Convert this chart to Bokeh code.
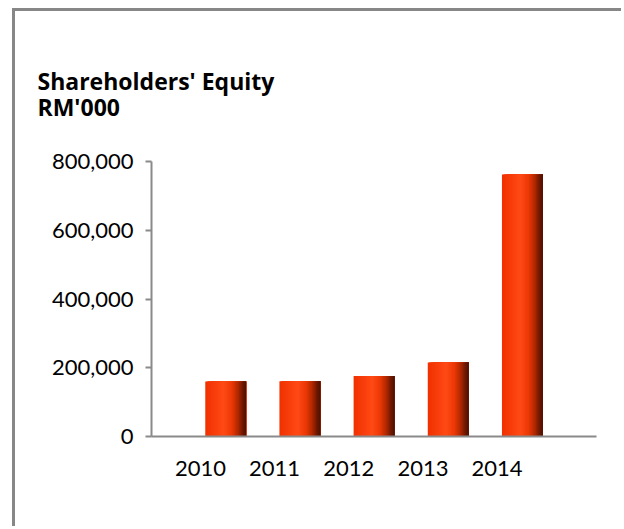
from bokeh.plotting import figure
from bokeh.models import Title, FixedTicker, Range1d, NumeralTickFormatter
from bokeh.embed import file_html
from bokeh.resources import INLINE

# ---- data ----
years = ["2010", "2011", "2012", "2013", "2014"]
equity = [160000, 161000, 176000, 215000, 762000]
y_ticks = [0, 200000, 400000, 600000, 800000]
title_text = "Shareholders' Equity\nRM'000"

FONT = "Lato"
TITLE_FONT = "Open Sans"
AXIS_COL = "#8a8a8a"
BORDER_COL = "#878787"

xs = list(range(len(years)))

# canvas sits at page (15, 11); the grey top/left frame is a box shadow
W, H = 609, 518
ML, MR, MT, MB = 136, 28, 150, 93

p = figure(width=W, height=H, output_backend="svg", toolbar_location=None,
           x_range=Range1d(-1, 5), y_range=Range1d(0, 800000),
           min_border_left=ML, min_border_right=MR, min_border_top=MT,
           min_border_bottom=MB)
p.styles = {"margin-left": "15px", "margin-top": "11px",
            "box-shadow": "-3px -3px 0px 0px " + BORDER_COL}
p.background_fill_color = "white"
p.border_fill_color = "white"
p.outline_line_color = None
p.grid.visible = False

# gradient bars built from overlapping vertical slices
stops = [(0.0, (240, 48, 0)), (0.45, (255, 74, 22)), (0.65, (236, 56, 6)),
         (0.8, (178, 40, 0)), (0.92, (110, 24, 0)), (1.0, (78, 16, 0))]

def col_at(t):
    for (t0, c0), (t1, c1) in zip(stops[:-1], stops[1:]):
        if t0 <= t <= t1:
            f = (t - t0) / (t1 - t0) if t1 > t0 else 0
            return "#%02x%02x%02x" % tuple(int(round(a + (b - a) * f)) for a, b in zip(c0, c1))
    return "#%02x%02x%02x" % stops[-1][1]

BAR_W = 0.55
N = 30
sw = BAR_W / N
for k in range(N):
    t = (k + 0.5) / N
    l = -BAR_W / 2 + sw * k
    r = BAR_W / 2
    p.quad(left=[x + l for x in xs], right=[x + r for x in xs], top=equity,
           bottom=0, fill_color=col_at(t), line_color=None)

# axes
yax = p.yaxis[0]
yax.ticker = FixedTicker(ticks=y_ticks)
yax.formatter = NumeralTickFormatter(format="0,0")
yax.minor_tick_line_color = None
yax.major_tick_in = 0
yax.major_tick_out = 6
yax.major_tick_line_color = AXIS_COL
yax.major_tick_line_width = 2
yax.axis_line_color = AXIS_COL
yax.axis_line_width = 2
yax.major_label_text_font = FONT
yax.major_label_text_font_size = "22px"
yax.major_label_text_color = "black"
yax.major_label_standoff = 12

label_shift = -0.34
xax = p.xaxis[0]
tick_pos = [x + label_shift for x in xs]
xax.ticker = FixedTicker(ticks=tick_pos)
xax.major_label_overrides = {t: y for t, y in zip(tick_pos, years)}
xax.minor_tick_line_color = None
xax.major_tick_line_color = None
xax.major_tick_in = 0
xax.major_tick_out = 0
xax.axis_line_color = AXIS_COL
xax.axis_line_width = 2
xax.major_label_text_font = FONT
xax.major_label_text_font_size = "22px"
xax.major_label_text_color = "black"
xax.major_label_standoff = 24

p.title = Title(text=title_text, align="left", offset=37 - 151, text_font=TITLE_FONT,
                text_font_size="23px", text_font_style="bold", text_color="black",
                text_line_height=0.8, standoff=77)

open("out.html", "w").write(file_html(p, INLINE))
